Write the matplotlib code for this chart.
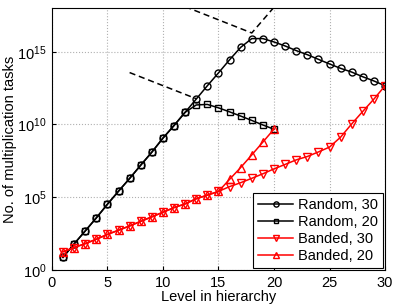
import matplotlib
matplotlib.use('Agg')
import matplotlib.pyplot as plt

plt.rcParams['font.family'] = ['Liberation Sans', 'DejaVu Sans']
plt.rcParams['mathtext.fontset'] = 'custom'
plt.rcParams['mathtext.rm'] = 'Liberation Sans'
plt.rcParams['mathtext.it'] = 'Liberation Sans:italic'

# Data
levels30 = list(range(1, 31))
levels20 = list(range(1, 21))

random30 = [7.4, 62, 480, 3.8e3, 3.3e4, 2.6e5, 1.95e6, 1.6e7, 1.25e8, 1.15e9,
            8.5e9, 6.9e10, 5.6e11, 4.6e12, 3.5e13, 2.8e14, 2.0e15, 8.0e15, 8.0e15, 4.7e15,
            2.5e15, 1.2e15, 6.3e14, 3.0e14, 1.45e14, 7.2e13, 4.0e13, 1.9e13, 9.8e12, 4.6e12]
random20 = [7.4, 62, 480, 3.8e3, 3.3e4, 2.6e5, 1.95e6, 1.6e7, 1.25e8, 1.15e9,
            8.5e9, 6.9e10, 2.2e11, 2.4e11, 1.4e11, 7.4e10, 3.8e10, 1.9e10, 9.3e9, 4.7e9]
banded30 = [18, 35, 65, 130, 280, 540, 1.07e3, 2.2e3, 4.5e3, 9.3e3,
            1.95e4, 3.5e4, 7.9e4, 1.4e5, 2.5e5, 5.4e5, 1.0e6, 2.0e6, 4.1e6, 8.9e6,
            1.8e7, 3.7e7, 6.3e7, 1.3e8, 2.8e8, 1.35e9, 1.1e10, 8.0e10, 5.6e11, 4.6e12]
banded20 = [18, 35, 65, 130, 280, 540, 1.07e3, 2.2e3, 4.5e3, 9.3e3,
            1.95e4, 3.5e4, 7.9e4, 1.4e5, 2.5e5, 1.7e6, 1.1e7, 8.1e7, 6.2e8, 4.8e9]

# dashed guide lines
guide1_x = [7, 13]
guide1_y = [3.7e13, 5.9e11]
guide2_x = [12, 18, 20.1]
guide2_y = [1.25e18, 1.95e16, 1.4e18]

fig = plt.figure(figsize=(3.99, 3.06), dpi=100)
ax = fig.add_axes([0.130, 0.1176, 0.835, 0.856])

ax.plot(guide1_x, guide1_y, color='black', lw=1.1, dashes=(4, 2.5))
ax.plot(guide2_x, guide2_y, color='black', lw=1.1, dashes=(4, 2.5))

ax.plot(levels30, random30, '-o', color='black', mfc='none', ms=5, lw=1.1, mew=1.0, label='Random, 30')
ax.plot(levels20, random20, '-s', color='black', mfc='none', ms=4.5, lw=1.1, mew=1.0, label='Random, 20')
ax.plot(levels30, banded30, '-v', color='red', mfc='none', ms=6, lw=1.1, mew=1.0, label='Banded, 30')
ax.plot(levels20, banded20, '-^', color='red', mfc='none', ms=6, lw=1.1, mew=1.0, label='Banded, 20')

ax.set_yscale('log')
ax.set_xlim(0, 30)
ax.set_ylim(1, 1e18)
ax.set_xticks([0, 5, 10, 15, 20, 25, 30])
ax.set_yticks([1, 1e5, 1e10, 1e15])
ax.minorticks_off()
ax.tick_params(direction='in', labelsize=10.5, length=3, pad=4)
ax.grid(True, linestyle=':', color='#b0b0b0', linewidth=0.8)

ax.set_xlabel('Level in hierarchy', fontsize=10.5)
ax.xaxis.set_label_coords(0.5, -0.075)
ax.xaxis.label.set_va('top')
ax.set_ylabel('No. of multiplication tasks', fontsize=10.5)
ax.yaxis.set_label_coords(-0.105, 0.5)

leg = ax.legend(loc='lower right', fontsize=10.5, fancybox=False, framealpha=1,
                edgecolor='black', handlelength=2.4, borderaxespad=0.15,
                labelspacing=0.2, borderpad=0.35, handletextpad=0.3,
                markerscale=0.75)
leg.get_frame().set_linewidth(0.8)

fig.savefig('out.png', dpi=100)
